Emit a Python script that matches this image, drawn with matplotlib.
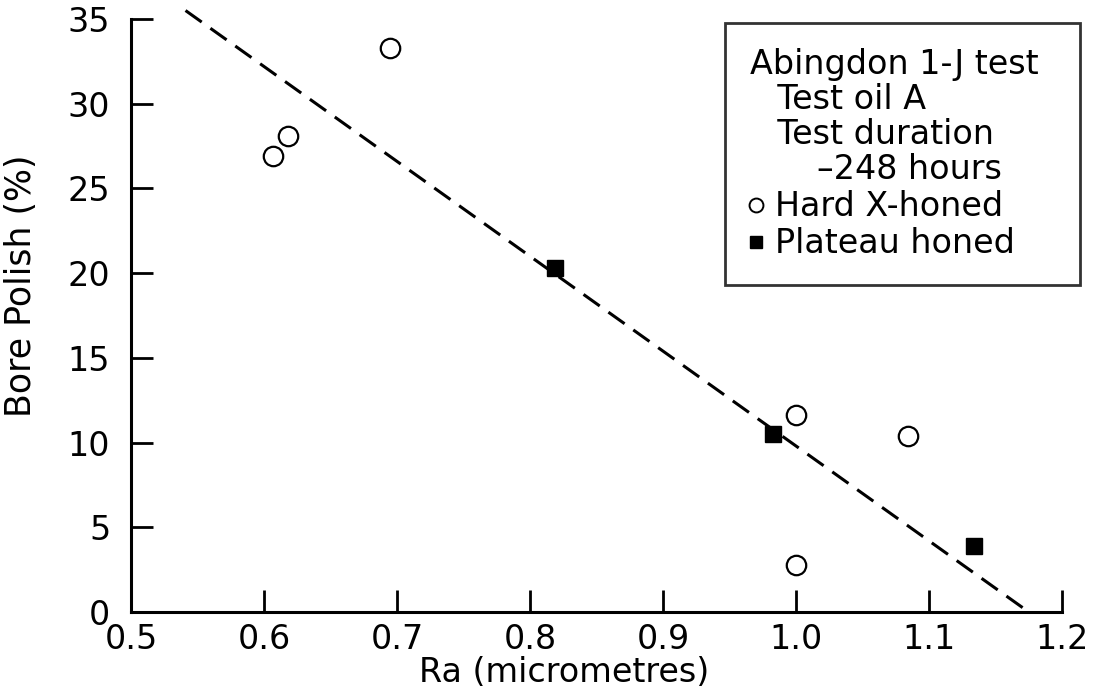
import matplotlib
matplotlib.use("Agg")
from matplotlib import pyplot as plt
from matplotlib.lines import Line2D
import numpy as np

plt.rcParams['font.family'] = ['DejaVu Sans']

# Hard X-honed bores (open circles)
x_hard = [0.607, 0.618, 0.695, 1.000, 1.084, 1.000]
y_hard = [26.9, 28.1, 33.3, 11.6, 10.4, 2.8]

# Plateau honed bores (filled squares)
x_plat = [0.819, 0.983, 1.134]
y_plat = [20.3, 10.5, 3.9]

# dashed trend line end points
x_fit = [0.541, 1.175]
y_fit = [35.5, 0.0]

x_ticks = [0.5, 0.6, 0.7, 0.8, 0.9, 1.0, 1.1, 1.2]
x_ticklabels = ['0.5', '0.6', '0.7', '0.8', '0.9', '1.0', '1.1', '1.2']
y_ticks = [0, 5, 10, 15, 20, 25, 30, 35]

fig = plt.figure(figsize=(10.97, 6.93), dpi=100)
ax = fig.add_axes([131/1097, 1 - 612/693, (1062-131)/1097, (612-19)/693])

ax.plot(x_fit, y_fit, color='black', lw=2.2, dashes=[6.5, 3.5], clip_on=False, zorder=2)
ax.plot(x_hard, y_hard, 'o', ms=14, mfc='white', mec='black', mew=1.6, zorder=3, clip_on=False)
ax.plot(x_plat, y_plat, 's', ms=12, mfc='black', mec='black', zorder=3, clip_on=False)

ax.set_xlim(0.5, 1.2)
ax.set_ylim(0, 35)
ax.set_xticks(x_ticks)
ax.set_xticklabels(x_ticklabels)
ax.set_yticks(y_ticks)

for s in ['top', 'right']:
    ax.spines[s].set_visible(False)
for s in ['left', 'bottom']:
    ax.spines[s].set_linewidth(2.2)

ax.tick_params(axis='both', direction='in', length=16, width=2, labelsize=24)
ax.tick_params(axis='x', pad=8)
ax.tick_params(axis='y', pad=15)

ax.set_xlabel('Ra (micrometres)', fontsize=24)
ax.xaxis.set_label_coords(0.465, -0.074)
ax.set_ylabel('Bore Polish (%)', fontsize=25)
ax.yaxis.set_label_coords(-0.1, 0.55)

handles = [
    Line2D([], [], ls='none', marker='o', ms=10, mfc='white', mec='black', mew=1.4),
    Line2D([], [], ls='none', marker='s', ms=9, mfc='black', mec='black'),
]
labels = ['Hard X-honed', 'Plateau honed']
title = ('Abingdon 1-J test\u2002\n'
         '\u2002 Test oil A\n'
         '\u2002 Test duration\n'
         '\u2002\u2002\u2002\u2002\u2013248 hours')
leg = ax.legend(handles, labels, title=title, title_fontsize=24, fontsize=24,
                loc='upper right', bbox_to_anchor=(1080/1097, 1 - 23/693),
                bbox_transform=fig.transFigure, borderaxespad=0,
                frameon=True, fancybox=False, edgecolor='black',
                handlelength=0.4, handletextpad=0.36, labelspacing=0.12,
                borderpad=0.75, alignment='left')
leg.get_frame().set_linewidth(2)
leg.get_title().set_linespacing(1.08)

fig.savefig('out.png', dpi=100)
